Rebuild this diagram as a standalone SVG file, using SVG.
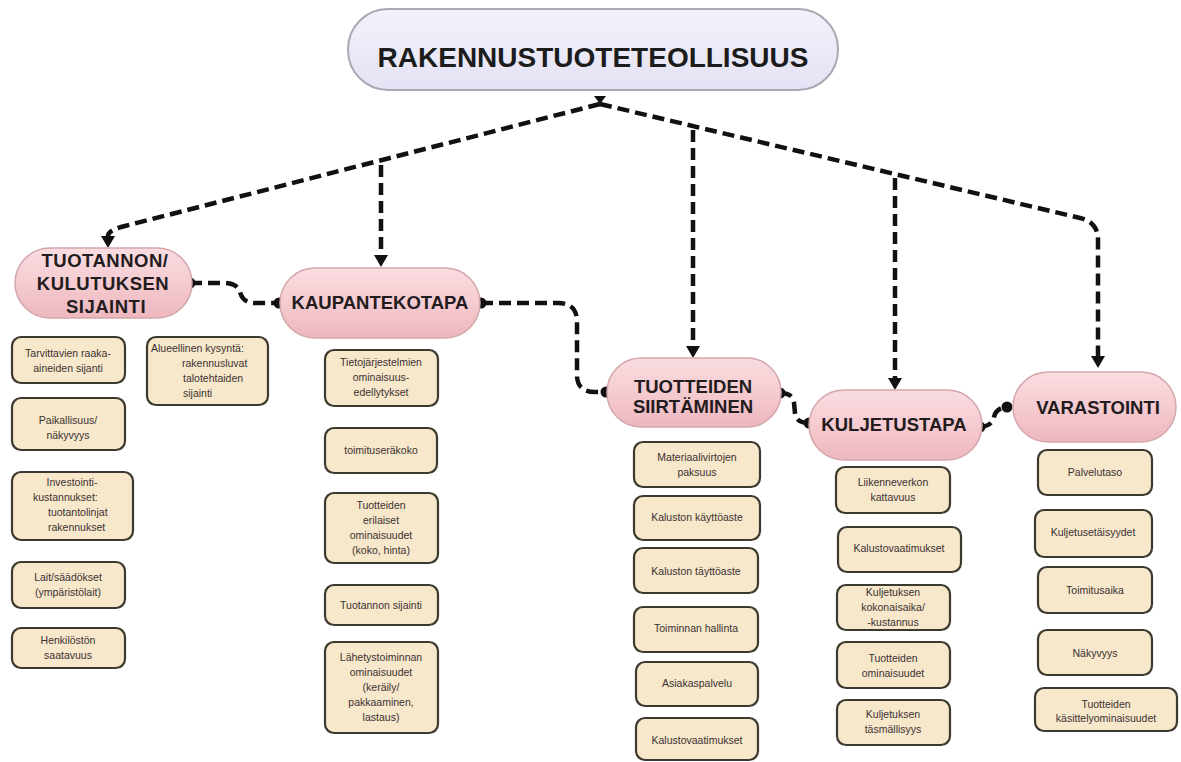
<svg xmlns="http://www.w3.org/2000/svg" width="1181" height="762" viewBox="0 0 1181 762">
<defs>
<linearGradient id="pink" x1="0" y1="0" x2="0" y2="1">
<stop offset="0" stop-color="#f9dde1"/>
<stop offset="0.5" stop-color="#f5cbd0"/>
<stop offset="1" stop-color="#edb7be"/>
</linearGradient>
<linearGradient id="lav" x1="0" y1="0" x2="0" y2="1">
<stop offset="0" stop-color="#f3f2fb"/>
<stop offset="1" stop-color="#e4e2f4"/>
</linearGradient>
<marker id="arr" viewBox="0 0 12 14" refX="0" refY="7" markerWidth="12" markerHeight="14" markerUnits="userSpaceOnUse" orient="auto">
<path d="M0,0 L12,7 L0,14 z" fill="#111"/>
</marker>
<marker id="dot" viewBox="0 0 12 12" refX="6" refY="6" markerWidth="12" markerHeight="12" markerUnits="userSpaceOnUse">
<circle cx="6" cy="6" r="5.5" fill="#111"/>
</marker>
</defs>
<style>
.pill{fill:url(#pink);stroke:#d3a6ab;stroke-width:1.5}
.top{fill:url(#lav);stroke:#a9a9b3;stroke-width:2}
.box{fill:#f7e7cb;stroke:#3c392e;stroke-width:2.2}
.big{font-family:"Liberation Sans",Arial,sans-serif;font-weight:bold;font-size:18.5px;fill:#231c1e;text-anchor:middle}
.title{font-family:"Liberation Sans",Arial,sans-serif;font-weight:bold;font-size:28px;fill:#1c1c1c;text-anchor:middle}
.sm{font-family:"Liberation Sans",Arial,sans-serif;font-size:10.5px;fill:#3a3232;text-anchor:middle}
.sl{font-family:"Liberation Sans",Arial,sans-serif;font-size:10.5px;fill:#3a3232;text-anchor:start}
.con{fill:none;stroke:#111;stroke-width:4.5;stroke-dasharray:12 6}
</style>
<rect width="1181" height="762" fill="#ffffff"/>

<g id="connectors">
<path class="con" d="M600,104 L125,226 Q108,230 108,236" marker-end="url(#arr)"/>
<path class="con" d="M381,165 L381,255" marker-end="url(#arr)"/>
<path class="con" d="M600,104 L1080,218 Q1098,222 1098,240 L1098,356" marker-end="url(#arr)"/>
<path class="con" d="M693,130 L693,346" marker-end="url(#arr)"/>
<path class="con" d="M895,178 L895,378" marker-end="url(#arr)"/>
<path d="M594,96 L606,96 L600,104 z" fill="#111"/>
<path class="con" d="M190,283 L225,283 Q238,284 240,292 Q243,303 255,303 L279,303" marker-start="url(#dot)" marker-end="url(#dot)"/>
<path class="con" d="M481,303 L558,303 Q577,303 577,322 L577,375 Q577,392 595,392 L606,392" marker-start="url(#dot)" marker-end="url(#dot)"/>
<path class="con" d="M780,393 Q793,393 794,403 L795,413 Q796,423 809,423" marker-start="url(#dot)" marker-end="url(#dot)"/>
<path class="con" d="M980,427 Q992,426 994,417 Q996,408 1007,407" marker-start="url(#dot)" marker-end="url(#dot)"/>
</g>

<g id="n-root">
<rect class="top" x="348" y="9" width="490" height="81" rx="40"/>
<text class="title" x="593" y="67">RAKENNUSTUOTETEOLLISUUS</text>
</g>

<g id="n-sijainti">
<rect class="pill" x="15" y="248" width="177" height="70" rx="35"/>
<text class="big" x="105" y="267" letter-spacing="0.5">TUOTANNON/</text>
<text class="big" x="103" y="290" letter-spacing="0.5">KULUTUKSEN</text>
<text class="big" x="106" y="313" letter-spacing="0.5">SIJAINTI</text>
</g>
<g id="n-kaupantekotapa">
<rect class="pill" x="280" y="268" width="200" height="70" rx="35"/>
<text class="big" x="380" y="309">KAUPANTEKOTAPA</text>
</g>
<g id="n-siirtaminen">
<rect class="pill" x="607" y="358" width="174" height="69" rx="34"/>
<text class="big" x="693" y="393">TUOTTEIDEN</text>
<text class="big" x="693" y="413">SIIRTÄMINEN</text>
</g>
<g id="n-kuljetustapa">
<rect class="pill" x="809" y="390" width="173" height="70" rx="35"/>
<text class="big" x="894" y="431">KULJETUSTAPA</text>
</g>
<g id="n-varastointi">
<rect class="pill" x="1013" y="372" width="163" height="70" rx="35"/>
<text class="big" x="1098" y="414">VARASTOINTI</text>
</g>

<g id="b-l1"><rect class="box" x="12" y="337" width="113" height="46" rx="9"/>
<text class="sm" x="68" y="357">Tarvittavien raaka-</text><text class="sm" x="68" y="372">aineiden sijanti</text></g>
<g id="b-l2"><rect class="box" x="147" y="337" width="121" height="68" rx="9"/>
<text class="sl" x="151" y="352">Alueellinen kysyntä:</text><text class="sl" x="182" y="367">rakennusluvat</text><text class="sl" x="183" y="382">talotehtaiden</text><text class="sl" x="183" y="397">sijainti</text></g>
<g id="b-l3"><rect class="box" x="12" y="398" width="113" height="52" rx="9"/>
<text class="sm" x="68" y="424">Paikallisuus/</text><text class="sm" x="68" y="439">näkyvyys</text></g>
<g id="b-l4"><rect class="box" x="12" y="472" width="121" height="68" rx="9"/>
<text class="sm" x="72" y="486">Investointi-</text><text class="sl" x="33" y="501">kustannukset:</text><text class="sl" x="48" y="516">tuotantolinjat</text><text class="sl" x="48" y="531">rakennukset</text></g>
<g id="b-l5"><rect class="box" x="12" y="562" width="113" height="46" rx="9"/>
<text class="sm" x="68" y="581">Lait/säädökset</text><text class="sm" x="68" y="596">(ympäristölait)</text></g>
<g id="b-l6"><rect class="box" x="12" y="628" width="113" height="40" rx="9"/>
<text class="sm" x="68" y="644">Henkilöstön</text><text class="sm" x="68" y="659">saatavuus</text></g>

<g id="b-m1"><rect class="box" x="325" y="350" width="113" height="56" rx="9"/>
<text class="sm" x="381" y="366">Tietojärjestelmien</text><text class="sm" x="381" y="381">ominaisuus-</text><text class="sm" x="381" y="396">edellytykset</text></g>
<g id="b-m2"><rect class="box" x="325" y="428" width="112" height="45" rx="9"/>
<text class="sm" x="381" y="454">toimituseräkoko</text></g>
<g id="b-m3"><rect class="box" x="325" y="493" width="113" height="70" rx="9"/>
<text class="sm" x="381" y="509">Tuotteiden</text><text class="sm" x="381" y="524">erilaiset</text><text class="sm" x="381" y="539">ominaisuudet</text><text class="sm" x="381" y="554">(koko, hinta)</text></g>
<g id="b-m4"><rect class="box" x="325" y="585" width="113" height="40" rx="9"/>
<text class="sm" x="381" y="609">Tuotannon sijainti</text></g>
<g id="b-m5"><rect class="box" x="325" y="642" width="113" height="91" rx="9"/>
<text class="sm" x="381" y="661">Lähetystoiminnan</text><text class="sm" x="381" y="676">ominaisuudet</text><text class="sm" x="381" y="691">(keräily/</text><text class="sm" x="381" y="706">pakkaaminen,</text><text class="sm" x="381" y="721">lastaus)</text></g>

<g id="b-t1"><rect class="box" x="634" y="442" width="126" height="45" rx="9"/>
<text class="sm" x="697" y="461">Materiaalivirtojen</text><text class="sm" x="697" y="476">paksuus</text></g>
<g id="b-t2"><rect class="box" x="634" y="496" width="126" height="44" rx="9"/>
<text class="sm" x="697" y="521">Kaluston käyttöaste</text></g>
<g id="b-t3"><rect class="box" x="634" y="548" width="124" height="45" rx="9"/>
<text class="sm" x="696" y="575">Kaluston täyttöaste</text></g>
<g id="b-t4"><rect class="box" x="634" y="607" width="124" height="45" rx="9"/>
<text class="sm" x="696" y="632">Toiminnan hallinta</text></g>
<g id="b-t5"><rect class="box" x="636" y="662" width="122" height="44" rx="9"/>
<text class="sm" x="697" y="687">Asiakaspalvelu</text></g>
<g id="b-t6"><rect class="box" x="636" y="718" width="122" height="42" rx="9"/>
<text class="sm" x="697" y="744">Kalustovaatimukset</text></g>

<g id="b-k1"><rect class="box" x="836" y="467" width="114" height="46" rx="9"/>
<text class="sm" x="893" y="486">Liikenneverkon</text><text class="sm" x="893" y="501">kattavuus</text></g>
<g id="b-k2"><rect class="box" x="838" y="527" width="123" height="45" rx="9"/>
<text class="sm" x="899" y="552">Kalustovaatimukset</text></g>
<g id="b-k3"><rect class="box" x="837" y="585" width="113" height="45" rx="9"/>
<text class="sm" x="893" y="596">Kuljetuksen</text><text class="sm" x="893" y="611">kokonaisaika/</text><text class="sm" x="893" y="626">-kustannus</text></g>
<g id="b-k4"><rect class="box" x="837" y="642" width="113" height="46" rx="9"/>
<text class="sm" x="893" y="662">Tuotteiden</text><text class="sm" x="893" y="677">ominaisuudet</text></g>
<g id="b-k5"><rect class="box" x="837" y="700" width="113" height="45" rx="9"/>
<text class="sm" x="893" y="718">Kuljetuksen</text><text class="sm" x="893" y="733">täsmällisyys</text></g>

<g id="b-v1"><rect class="box" x="1038" y="450" width="114" height="45" rx="9"/>
<text class="sm" x="1095" y="476">Palvelutaso</text></g>
<g id="b-v2"><rect class="box" x="1035" y="510" width="117" height="47" rx="9"/>
<text class="sm" x="1093" y="536">Kuljetusetäisyydet</text></g>
<g id="b-v3"><rect class="box" x="1038" y="567" width="114" height="46" rx="9"/>
<text class="sm" x="1095" y="594">Toimitusaika</text></g>
<g id="b-v4"><rect class="box" x="1038" y="630" width="114" height="45" rx="9"/>
<text class="sm" x="1095" y="657">Näkyvyys</text></g>
<g id="b-v5"><rect class="box" x="1035" y="688" width="142" height="43" rx="9"/>
<text class="sm" x="1106" y="708">Tuotteiden</text><text class="sm" x="1106" y="722">käsittelyominaisuudet</text></g>
</svg>
